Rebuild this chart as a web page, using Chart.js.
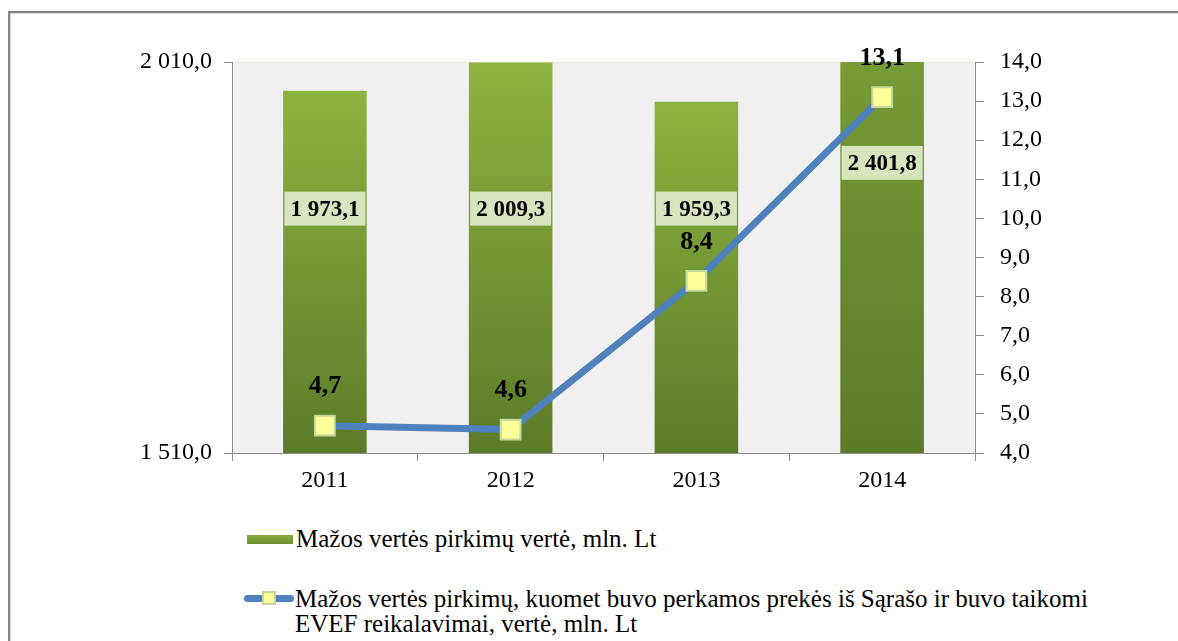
<!DOCTYPE html>
<html lang="lt">
<head>
<meta charset="UTF-8">
<title>Mažos vertės pirkimai</title>
<style>
    * { margin: 0; padding: 0; box-sizing: border-box; }
    body {
        width: 1178px;
        height: 641px;
        overflow: hidden;
        background: #FFFFFF;
        position: relative;
        font-family: "Liberation Serif", "Times New Roman", "DejaVu Serif", serif;
    }
    .frame {
        position: absolute;
        left: 8px;
        top: 11px;
        width: 1300px;
        height: 800px;
        border: 2px solid #858585;
        box-shadow: 1px 1px 0 #d8d8d8 inset;
    }
    .chart-box {
        position: absolute;
        left: 0;
        top: 0;
        width: 1178px;
        height: 500px;
    }
    .legend {
        position: absolute;
        left: 244px;
        top: 526px;
        font-size: 25px;
        color: #000;
        line-height: 25px;
    }
    .legend .item { display: flex; align-items: flex-start; }
    .legend .item + .item { margin-top: 35px; }
    .sym-bar {
        width: 46px;
        height: 9px;
        margin: 9px 3px 0 3px;
        background: linear-gradient(#87AC3D, #6B8F30);
    }
    .sym-line {
        position: relative;
        width: 50px;
        height: 25px;
        margin-right: 1px;
        flex: none;
    }
    .sym-line .ln {
        position: absolute;
        left: 0; right: 0;
        top: 9px;
        height: 7px;
        border-radius: 4px;
        background: #4F81BD;
    }
    .sym-line .mk {
        position: absolute;
        left: 18px;
        top: 5px;
        width: 14px;
        height: 14px;
        background: #FFFF99;
        border: 2px solid #C3D69B;
    }
</style>
</head>
<body>
<div class="frame"></div>
<div class="chart-box"><canvas id="chart" width="1178" height="500"></canvas></div>
<div class="legend">
    <div class="item"><span class="sym-bar"></span><span>Mažos vertės pirkimų vertė, mln. Lt</span></div>
    <div class="item"><span class="sym-line"><span class="ln"></span><span class="mk"></span></span><span>Mažos vertės pirkimų, kuomet buvo perkamos prekės iš Sąrašo ir buvo taikomi<br>EVEF reikalavimai, vertė, mln. Lt</span></div>
</div>

<script src="https://cdn.jsdelivr.net/npm/chart.js@4.4.1/dist/chart.umd.min.js"></script>
<script>
    const years = ['2011', '2012', '2013', '2014'];
    const totalValue = [1973.1, 2009.3, 1959.3, 2401.8];
    const listValue = [4.7, 4.6, 8.4, 13.1];
    const leftTicks = [1510, 2010];

    const FONT = '"Liberation Serif", "Times New Roman", "DejaVu Serif", serif';

    // lithuanian number format: "2 010,0"
    function fmt(v) {
        const parts = Number(v).toFixed(1).split('.');
        const intPart = parts[0].replace(/\B(?=(\d{3})+(?!\d))/g, ' ');
        return intPart + ',' + parts[1];
    }

    function barGradient(context) {
        const chart = context.chart;
        const area = chart.chartArea;
        if (!area) return '#7BA037';
        const y = chart.scales.y;
        const top = y.getPixelForValue(context.raw);
        const base = y.getPixelForValue(y.min);
        const g = chart.ctx.createLinearGradient(0, top, 0, base);
        g.addColorStop(0, '#8DB33F');
        g.addColorStop(1, '#5B7B29');
        return g;
    }

    const plotBg = {
        id: 'plotBg',
        beforeDraw(chart) {
            const a = chart.chartArea;
            const ctx = chart.ctx;
            ctx.save();
            ctx.fillStyle = '#F0F0F0';
            ctx.fillRect(a.left, a.top, a.right - a.left, a.bottom - a.top);
            ctx.strokeStyle = '#E3EAD5';
            ctx.lineWidth = 1;
            ctx.beginPath();
            ctx.moveTo(a.left, a.top + 0.5);
            ctx.lineTo(a.right, a.top + 0.5);
            ctx.stroke();
            ctx.restore();
        }
    };

    const valueLabels = {
        id: 'valueLabels',
        afterDatasetsDraw(chart) {
            const ctx = chart.ctx;
            const a = chart.chartArea;
            const h = a.bottom - a.top;
            ctx.save();
            ctx.textAlign = 'center';
            ctx.textBaseline = 'middle';

            // bar labels in boxes
            ctx.font = 'bold 23px ' + FONT;
            const barMeta = chart.getDatasetMeta(1);
            barMeta.data.forEach((bar, i) => {
                const txt = fmt(totalValue[i]);
                const clipped = totalValue[i] > chart.scales.y.max;
                const cy = a.top + h * (clipped ? 0.258 : 0.375);
                const w = ctx.measureText(txt).width + 12;
                ctx.fillStyle = '#D7E4BD';
                ctx.fillRect(bar.x - w / 2, cy - 17, w, 34);
                ctx.fillStyle = '#000';
                ctx.fillText(txt, bar.x, cy + 1);
            });

            // line labels above markers
            ctx.font = 'bold 26px ' + FONT;
            const lineMeta = chart.getDatasetMeta(0);
            lineMeta.data.forEach((pt, i) => {
                ctx.fillStyle = '#000';
                ctx.fillText(fmt(listValue[i]), pt.x, pt.y - 39);
            });
            ctx.restore();
        }
    };

    new Chart(document.getElementById('chart'), {
        data: {
            labels: years,
            datasets: [
                {
                    type: 'line',
                    label: 'Mažos vertės pirkimų, kuomet buvo perkamos prekės iš Sąrašo ir buvo taikomi EVEF reikalavimai, vertė, mln. Lt',
                    data: listValue,
                    yAxisID: 'y1',
                    order: 0,
                    borderColor: '#4F81BD',
                    borderWidth: 7,
                    tension: 0,
                    pointStyle: 'rect',
                    pointRadius: 14,
                    pointBackgroundColor: '#FFFF99',
                    pointBorderColor: '#C3D69B',
                    pointBorderWidth: 2
                },
                {
                    type: 'bar',
                    label: 'Mažos vertės pirkimų vertė, mln. Lt',
                    data: totalValue,
                    yAxisID: 'y',
                    order: 1,
                    backgroundColor: barGradient,
                    categoryPercentage: 1,
                    barPercentage: 0.45
                }
            ]
        },
        options: {
            responsive: false,
            animation: false,
            layout: { padding: { top: 62, left: 0, right: 0, bottom: 0 } },
            plugins: {
                legend: { display: false },
                tooltip: { enabled: false }
            },
            scales: {
                x: {
                    afterFit(scale) { scale.height = 47; },
                    grid: { offset: true, drawOnChartArea: false, color: '#8C8C8C', tickLength: 8 },
                    border: { color: '#8C8C8C' },
                    ticks: { color: '#000', font: { family: FONT, size: 24 }, padding: 5 }
                },
                y: {
                    position: 'left',
                    min: leftTicks[0],
                    max: leftTicks[1],
                    afterFit(scale) { scale.width = 232; },
                    afterBuildTicks(scale) { scale.ticks = leftTicks.map(v => ({ value: v })); },
                    grid: { drawOnChartArea: false, color: '#8C8C8C', tickLength: 8 },
                    border: { color: '#8C8C8C' },
                    ticks: { color: '#000', font: { family: FONT, size: 24 }, padding: 12, callback: v => fmt(v) }
                },
                y1: {
                    position: 'right',
                    min: 4,
                    max: 14,
                    afterFit(scale) { scale.width = 203; },
                    grid: { drawOnChartArea: false, color: '#8C8C8C', tickLength: 9 },
                    border: { color: '#8C8C8C' },
                    ticks: { stepSize: 1, color: '#000', font: { family: FONT, size: 24 }, padding: 16, callback: v => fmt(v) }
                }
            }
        },
        plugins: [plotBg, valueLabels]
    });
</script>
</body>
</html>
